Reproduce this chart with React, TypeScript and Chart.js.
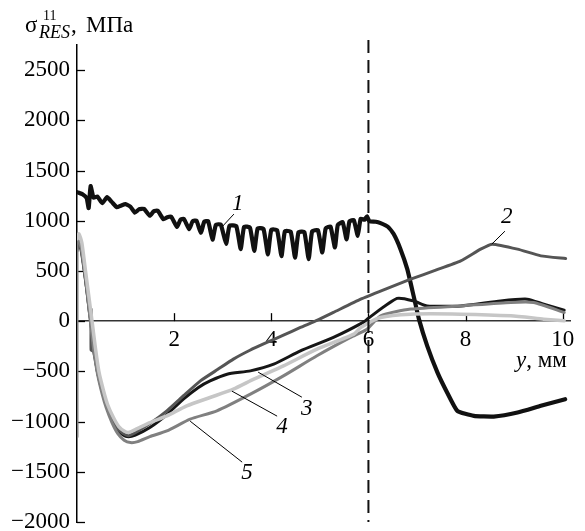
import React, { useEffect, useRef } from 'react';
import { Chart, registerables } from 'chart.js';

Chart.register(...registerables);

const FONT = '"Liberation Serif", "Times New Roman", serif';

// ---- data (x in mm, sigma in MPa) ----
const xTicks = [2, 4, 6, 8, 10];
const yTicks = [-2000, -1500, -1000, -500, 0, 500, 1000, 1500, 2000, 2500];
const seriesLabels = ['1', '2', '3', '4', '5'];
const dashedX = 6;

const series1: [number, number][] = [
  [0, 1285], [0.12, 1262], [0.2, 1225], [0.24, 1125], [0.28, 1345], [0.34, 1230], [0.42, 1240],
  [0.52, 1175], [0.62, 1235], [0.72, 1185], [0.82, 1135], [0.9, 1150], [1.0, 1165], [1.1, 1140],
  [1.19, 1080], [1.28, 1115], [1.38, 1118], [1.5, 1050], [1.58, 1095], [1.66, 1100], [1.78, 1015],
  [1.86, 1035], [1.94, 1040], [2.06, 938], [2.13, 1010], [2.2, 1018], [2.31, 915], [2.38, 995],
  [2.46, 1000], [2.55, 880], [2.62, 990], [2.7, 995], [2.79, 812], [2.86, 960], [2.96, 962],
  [3.07, 770], [3.14, 950], [3.28, 945], [3.37, 717], [3.44, 940], [3.56, 932], [3.65, 700],
  [3.72, 925], [3.84, 918], [3.93, 665], [4.0, 910], [4.12, 905], [4.21, 648], [4.28, 895],
  [4.4, 890], [4.49, 632], [4.56, 885], [4.68, 888], [4.77, 617], [4.84, 895], [4.96, 905],
  [5.05, 684], [5.12, 925], [5.22, 940], [5.31, 734], [5.37, 960], [5.47, 985], [5.55, 815],
  [5.61, 995], [5.7, 1005], [5.78, 850], [5.84, 1020], [5.92, 1010], [5.97, 1045], [6.02, 995],
  [6.15, 990], [6.25, 976], [6.4, 940], [6.52, 867], [6.66, 717], [6.8, 518], [6.93, 252],
  [7.04, 20], [7.21, -246], [7.42, -510], [7.62, -710], [7.83, -893], [8.17, -943], [8.58, -950],
  [9.07, -910], [9.55, -843], [10.05, -777],
];

const series2: [number, number][] = [
  [0.0, 700], [0.04, 790], [0.1, 690], [0.17, 440], [0.24, 150], [0.27, 40], [0.29, 120], [0.29, -290],
  [0.34, -300], [0.42, -500], [0.52, -700], [0.6, -830], [0.72, -970], [0.82, -1060], [0.95, -1120],
  [1.06, -1140], [1.2, -1110], [1.5, -1020], [1.85, -893], [2.2, -740], [2.54, -595], [2.9, -480],
  [3.22, -378], [3.56, -290], [3.91, -212], [4.25, -140], [4.6, -63], [4.95, 10], [5.28, 87],
  [5.84, 219], [6.3, 310], [6.87, 418], [7.4, 510], [7.9, 600], [8.31, 717], [8.55, 767],
  [9.07, 717], [9.55, 650], [10.06, 624],
];

const series3: [number, number][] = [
  [0.03, 770], [0.08, 720], [0.15, 500], [0.21, 280], [0.28, 0], [0.35, -270], [0.42, -500],
  [0.52, -700], [0.6, -830], [0.72, -970], [0.82, -1070], [0.95, -1135], [1.06, -1152],
  [1.2, -1135], [1.5, -1059], [1.85, -930], [2.19, -777], [2.5, -660], [2.74, -595], [3.09, -528],
  [3.57, -495], [4.05, -428], [4.6, -296], [5.28, -162], [5.9, -10], [6.0, 30], [6.59, 226],
  [6.93, 202], [7.21, 152], [7.9, 152], [8.72, 202], [9.27, 219], [9.61, 169], [10.03, 110],
];

const series4: [number, number][] = [
  [0.0, 820], [0.04, 870], [0.1, 780], [0.17, 520], [0.24, 260], [0.31, 0], [0.38, -270],
  [0.45, -500], [0.55, -700], [0.63, -830], [0.75, -960], [0.86, -1050], [0.97, -1095],
  [1.06, -1109], [1.2, -1080], [1.5, -1010], [1.85, -943], [2.26, -843], [2.74, -760],
  [3.22, -677], [3.64, -578], [4.25, -445], [4.94, -279], [5.7, -129], [5.84, -63], [6.25, 37],
  [6.87, 70], [7.9, 70], [8.93, 53], [9.61, 20], [10.03, 3],
];

const series5: [number, number][] = [
  [0, -1150], [0, 780], [0.03, 800], [0.08, 740], [0.15, 520], [0.21, 290], [0.27, 20],
  [0.34, -270], [0.42, -520], [0.52, -730], [0.6, -860], [0.72, -1010], [0.84, -1120],
  [0.97, -1185], [1.1, -1209], [1.25, -1200], [1.5, -1150], [1.85, -1093], [2.33, -976],
  [2.88, -893], [3.57, -727], [4.25, -545], [4.94, -345], [5.63, -162], [5.97, -80], [6.25, 53],
  [6.87, 120], [7.9, 152], [8.93, 186], [9.4, 186], [10.03, 87],
];

// annotation positions in data units: [text, textX, textY, leaderX1, leaderY1, leaderX2, leaderY2]
const annotations: [string, number, number, number, number, number, number][] = [
  ['1', 3.31, 1165, 3.0, 946, 3.23, 1066],
  ['2', 8.85, 1036, 8.54, 767, 8.81, 896],
  ['3', 4.73, -876, 3.73, -508, 4.63, -757],
  ['4', 4.22, -1056, 3.19, -697, 4.12, -946],
  ['5', 3.5, -1514, 2.33, -996, 3.4, -1404],
];

const toXY = (arr: [number, number][]) => arr.map(([x, y]) => ({ x, y }));

const overlay = {
  id: 'overlay',
  beforeDatasetsDraw(chart: any) {
    const { ctx } = chart;
    const xs = chart.scales.x;
    const ys = chart.scales.y;
    ctx.save();
    ctx.strokeStyle = '#000';
    ctx.lineWidth = 1.3;
    yTicks.forEach((v) => {
      const py = Math.round(ys.getPixelForValue(v)) + 0.5;
      ctx.beginPath();
      ctx.moveTo(xs.left, py);
      ctx.lineTo(xs.left + 8, py);
      ctx.stroke();
    });
    const y0 = ys.getPixelForValue(0);
    xTicks.forEach((v) => {
      const px = Math.round(xs.getPixelForValue(v)) + 0.5;
      ctx.beginPath();
      ctx.moveTo(px, y0);
      ctx.lineTo(px, y0 - 8);
      ctx.stroke();
    });
    ctx.restore();
  },
  afterDraw(chart: any) {
    const { ctx } = chart;
    const xs = chart.scales.x;
    const ys = chart.scales.y;
    ctx.save();
    const dx = xs.getPixelForValue(dashedX);
    ctx.strokeStyle = '#111';
    ctx.lineWidth = 2;
    ctx.setLineDash([13, 7]);
    ctx.beginPath();
    ctx.moveTo(dx, ys.top - 5);
    ctx.lineTo(dx, ys.bottom);
    ctx.stroke();
    ctx.setLineDash([]);

    ctx.fillStyle = '#000';
    ctx.strokeStyle = '#000';
    ctx.lineWidth = 1;
    ctx.textAlign = 'center';
    ctx.textBaseline = 'middle';
    ctx.font = `italic 23px ${FONT}`;
    annotations.forEach(([t, tx, ty, x1, y1, x2, y2]) => {
      ctx.beginPath();
      ctx.moveTo(xs.getPixelForValue(x1), ys.getPixelForValue(y1));
      ctx.lineTo(xs.getPixelForValue(x2), ys.getPixelForValue(y2));
      ctx.stroke();
      ctx.fillText(t, xs.getPixelForValue(tx), ys.getPixelForValue(ty));
    });

    ctx.textAlign = 'left';
    ctx.textBaseline = 'alphabetic';
    ctx.font = `23px ${FONT}`;
    ctx.fillText('σ', 25, 32);
    ctx.font = `14px ${FONT}`;
    ctx.fillText('11', 43, 20);
    ctx.font = `italic 18px ${FONT}`;
    ctx.fillText('RES', 39, 38);
    ctx.font = `23px ${FONT}`;
    ctx.fillText(',', 71, 32);
    ctx.fillText('МПа', 86, 32);

    ctx.font = `italic 23px ${FONT}`;
    ctx.fillText('y', 516, 367);
    const w = ctx.measureText('y').width;
    ctx.font = `23px ${FONT}`;
    ctx.fillText(', мм', 516 + w, 367);
    ctx.restore();
  },
};

export default function App() {
  const ref = useRef<HTMLCanvasElement | null>(null);
  useEffect(() => {
    document.body.style.margin = '0';
    if (!ref.current) return;
    const mk = (data: [number, number][], color: string, width: number, tension: number) => ({
      data: toXY(data),
      borderColor: color,
      backgroundColor: color,
      borderWidth: width,
      pointRadius: 0,
      tension,
      fill: false,
      borderJoinStyle: 'round' as const,
      borderCapStyle: 'round' as const,
    });
    const chart = new Chart(ref.current, {
      type: 'line',
      data: {
        datasets: [
          { label: seriesLabels[3], ...mk(series4, '#c6c6c6', 3.5, 0.2) },
          { label: seriesLabels[4], ...mk(series5, '#808080', 3, 0.2) },
          { label: seriesLabels[1], ...mk(series2, '#555555', 3, 0.15) },
          { label: seriesLabels[2], ...mk(series3, '#161616', 3, 0.2) },
          { label: seriesLabels[0], ...mk(series1, '#111111', 4.2, 0.15) },
        ],
      },
      options: {
        animation: false,
        responsive: false,
        devicePixelRatio: 1,
        layout: { padding: { top: 45, bottom: 9, left: 0, right: 15 } },
        plugins: { legend: { display: false }, tooltip: { enabled: false } },
        scales: {
          x: {
            type: 'linear',
            min: 0,
            max: 10.15,
            position: { y: 0 } as any,
            afterBuildTicks: (s: any) => { s.ticks = xTicks.map((v) => ({ value: v })); },
            afterFit: (s: any) => { s.paddingLeft = 0; s.paddingRight = 0; },
            grid: { display: true, drawOnChartArea: false, drawTicks: false },
            border: { display: true, color: '#333', width: 1.5 },
            ticks: {
              color: '#000',
              padding: 5,
              maxRotation: 0,
              font: { family: FONT, size: 23 },
              callback: (v: any) => String(v),
            },
          },
          y: {
            type: 'linear',
            min: -2000,
            max: 2750,
            afterBuildTicks: (s: any) => { s.ticks = yTicks.map((v) => ({ value: v })); },
            afterFit: (s: any) => { s.width = 77; s.paddingTop = 0; s.paddingBottom = 0; },
            grid: { display: true, drawOnChartArea: false, drawTicks: false },
            border: { display: true, color: '#000', width: 1.5 },
            ticks: {
              color: '#000',
              padding: 7,
              font: { family: FONT, size: 23 },
              callback: (v: any) => (Number(v) < 0 ? '−' + Math.abs(Number(v)) : String(v)),
            },
          },
        },
      },
      plugins: [overlay],
    });
    return () => chart.destroy();
  }, []);
  return <canvas ref={ref} width={585} height={531} style={{ display: 'block' }} />;
}
